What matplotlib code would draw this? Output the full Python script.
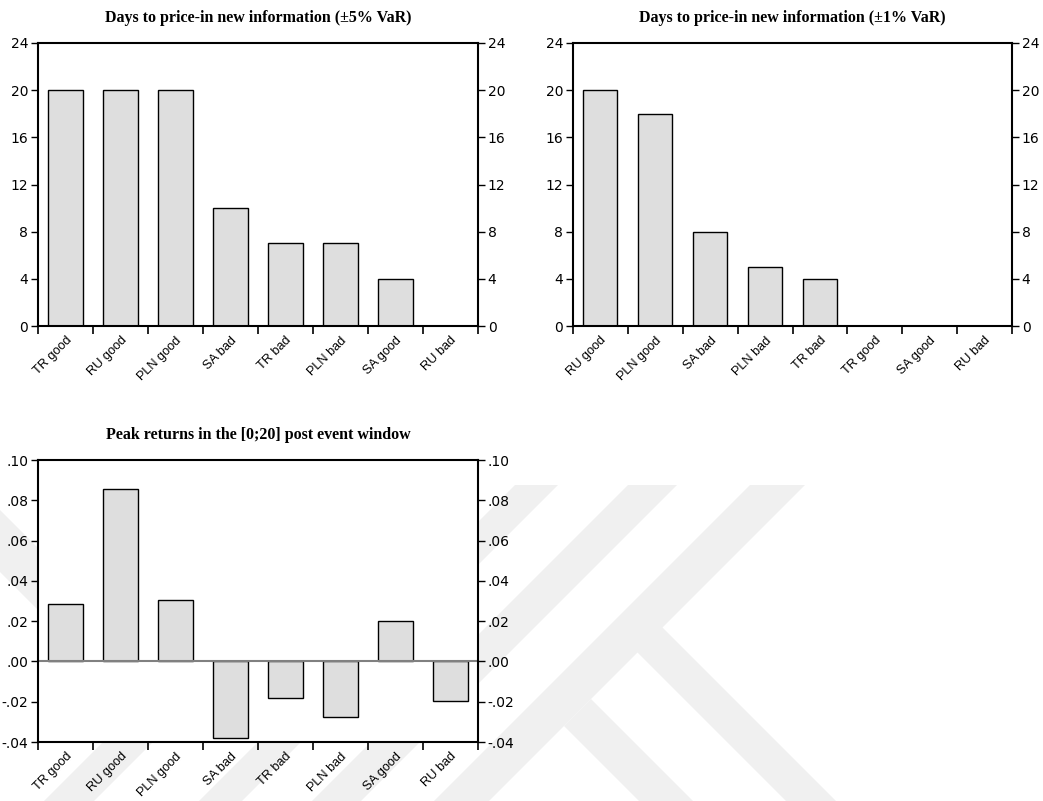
import matplotlib.pyplot as plt
from matplotlib.patches import Polygon
from matplotlib.ticker import FuncFormatter, MultipleLocator
import numpy as np

# Days to price in new information, +/-5% VaR band
cats_5 = ["TR good", "RU good", "PLN good", "SA bad", "TR bad", "PLN bad", "SA good", "RU bad"]
days_5 = [20, 20, 20, 10, 7, 7, 4, 0]

# Days to price in new information, +/-1% VaR band
cats_1 = ["RU good", "PLN good", "SA bad", "PLN bad", "TR bad", "TR good", "SA good", "RU bad"]
days_1 = [20, 18, 8, 5, 4, 0, 0, 0]

# Peak returns in the [0;20] post event window
cats_peak = ["TR good", "RU good", "PLN good", "SA bad", "TR bad", "PLN bad", "SA good", "RU bad"]
peak_ret = [0.0285, 0.0856, 0.0303, -0.0381, -0.0181, -0.0275, 0.0199, -0.0196]

W, H = 1043, 801
BAR_FILL = "#dedede"

plt.rcParams['font.family'] = ['Liberation Sans', 'DejaVu Sans']
plt.rcParams['font.size'] = 10

fig = plt.figure(figsize=(W / 100, H / 100), dpi=100)
fig.patch.set_facecolor("white")


def px_box(left, top, right, bottom):
    # axes rectangle from pixel edges (origin top-left)
    return [left / W, 1 - bottom / H, (right - left) / W, (bottom - top) / H]


def px_poly(pts):
    return [(x / W, 1 - y / H) for x, y in pts]


# faint background stamp, lower half of the page
stamp = [
    [(360, 485), (410, 485), (94, 801), (44, 801)],
    [(515, 485), (558, 485), (242, 801), (199, 801)],
    [(628, 485), (677, 485), (361, 801), (312, 801)],
    [(750, 485), (805, 485), (489, 801), (434, 801)],
    [(662, 627), (637, 652), (786, 801), (836, 801)],
    [(591, 699), (564, 726), (639, 801), (693, 801)],
    [(0, 510), (38, 548), (38, 610), (0, 572)],
]
for pts in stamp:
    fig.patches.append(Polygon(px_poly(pts), closed=True, transform=fig.transFigure,
                               facecolor="#f0f0f0", edgecolor="none", zorder=0))


def bar_panel(ax, cats, vals, title, ylim, step, fmt):
    x = np.arange(len(cats))
    ax.set_facecolor("white")
    ax.bar(x, vals, width=0.62, color=BAR_FILL, edgecolor="black", linewidth=1.0, zorder=2)
    ax.set_xlim(-0.5, len(cats) - 0.5)
    ax.set_ylim(*ylim)
    ax.yaxis.set_major_locator(MultipleLocator(step))
    ax.yaxis.set_major_formatter(FuncFormatter(fmt))
    ax.set_xticks(x)
    ax.set_xticklabels(cats, rotation=45, ha="right", rotation_mode="anchor")
    ax.set_xticks(np.arange(len(cats) + 1) - 0.5, minor=True)
    ax.tick_params(axis="x", which="major", length=0, pad=6, labelsize=9.2)
    ax.tick_params(axis="x", which="minor", length=6, width=1.2, direction="out")
    ax.tick_params(axis="y", which="major", left=True, right=True, labelleft=True,
                   labelright=True, direction="out", length=5, width=1.0, pad=2)
    for lab in ax.get_yticklabels():
        lab.set_family(["DejaVu Sans"])
        lab.set_fontsize(10)
    for sp in ax.spines.values():
        sp.set_linewidth(1.5)
        sp.set_zorder(4)
    ax.set_title(title, fontsize=11.5, fontweight="bold",
                 family=["Liberation Serif", "DejaVu Serif"], pad=15)


int_fmt = lambda v, p: f"{v:.0f}"
dec_fmt = lambda v, p: f"{v:.2f}".replace("0.", ".")

ax1 = fig.add_axes(px_box(38, 43, 478, 326), zorder=2)
bar_panel(ax1, cats_5, days_5, "Days to price-in new information (\u00b15% VaR)", (0, 24), 4, int_fmt)

ax2 = fig.add_axes(px_box(573, 43, 1012, 326), zorder=2)
bar_panel(ax2, cats_1, days_1, "Days to price-in new information (\u00b11% VaR)", (0, 24), 4, int_fmt)

ax3 = fig.add_axes(px_box(38, 460, 478, 742), zorder=2)
bar_panel(ax3, cats_peak, peak_ret, "Peak returns in the [0;20] post event window", (-0.04, 0.10), 0.02, dec_fmt)
ax3.axhline(0, color="#808080", linewidth=1.5, zorder=3)

fig.savefig("out.png", dpi=100)
